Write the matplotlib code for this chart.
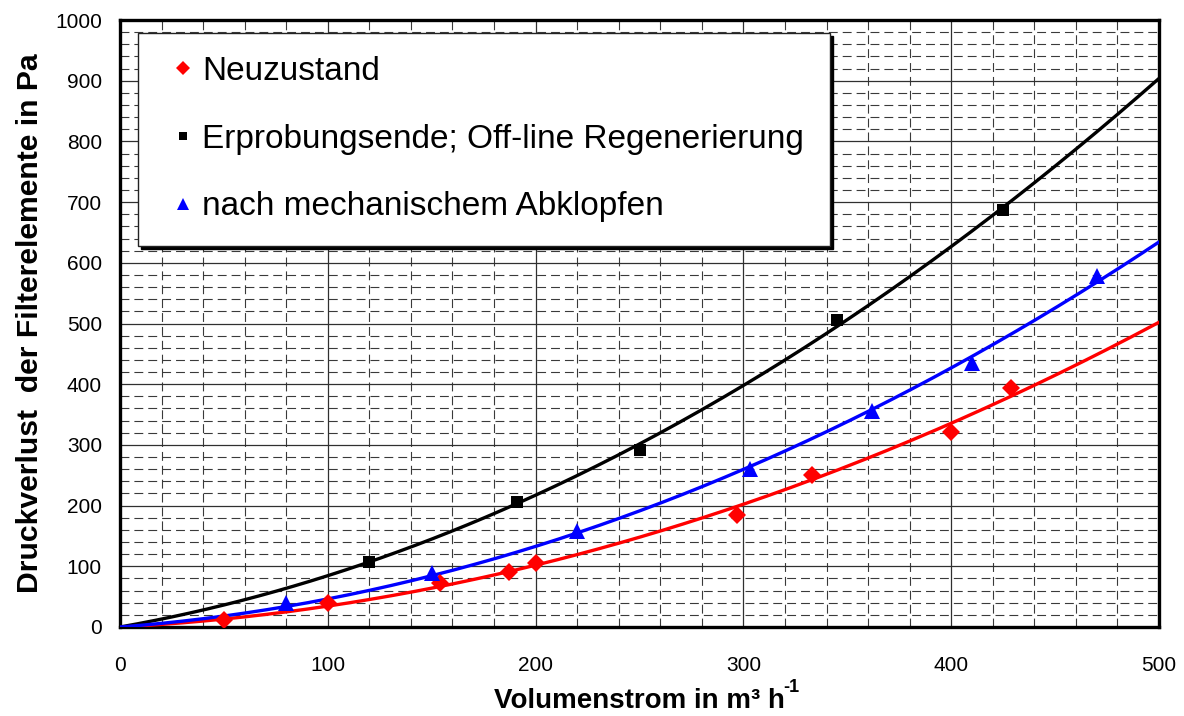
import numpy as np
import matplotlib
matplotlib.use("Agg")
import matplotlib.pyplot as plt
from matplotlib.ticker import MultipleLocator

plt.rcParams['font.family'] = ['Liberation Sans', 'DejaVu Sans']

# Measured operating points
x_neu = [50, 100, 154, 187, 200, 297, 333, 400, 429]
y_neu = [12, 40, 72, 90, 105, 185, 250, 321, 394]

x_end = [120, 191, 250, 345, 425]
y_end = [107, 206, 292, 506, 687]

x_mech = [80, 150, 220, 303, 362, 410, 470]
y_mech = [40, 89, 158, 260, 356, 435, 578]

labels = ["Neuzustand",
          "Erprobungsende; Off-line Regenerierung",
          "nach mechanischem Abklopfen"]
colors = ["#ff0000", "#000000", "#0000ff"]
markers = ["D", "s", "^"]
msizes = [9, 8, 11]

x_ticks = [0, 100, 200, 300, 400, 500]
y_ticks = [0, 100, 200, 300, 400, 500, 600, 700, 800, 900, 1000]


def quad_fit(x, y):
    """Least-squares fit y = a*x^2 + b*x (through the origin)."""
    x = np.asarray(x, float)
    y = np.asarray(y, float)
    A = np.column_stack([x ** 2, x])
    coef, *_ = np.linalg.lstsq(A, y, rcond=None)
    return coef


fig = plt.figure(figsize=(11.84, 7.16), dpi=100)
ax = fig.add_axes([120 / 1184, 89 / 716, 1039 / 1184, 607 / 716])

ax.set_xlim(0, 500)
ax.set_ylim(0, 1000)
ax.set_xticks(x_ticks)
ax.set_yticks(y_ticks)
ax.xaxis.set_minor_locator(MultipleLocator(20))
ax.yaxis.set_minor_locator(MultipleLocator(20))

ax.grid(which="minor", color="#3a3a3a", linewidth=0.8, linestyle=(0, (8, 4.5)))
ax.grid(which="major", color="#303030", linewidth=0.9, linestyle="-")
ax.set_axisbelow(True)

ax.tick_params(which="both", length=0, labelsize=15)
ax.tick_params(axis="y", pad=13)
ax.tick_params(axis="x", pad=21)

for s in ax.spines.values():
    s.set_linewidth(2.4)
    s.set_color("black")

xs = np.linspace(0, 500, 300)
handles = []
for (xd, yd), lab, c, m, ms in zip([(x_neu, y_neu), (x_end, y_end), (x_mech, y_mech)],
                                   labels, colors, markers, msizes):
    a, b = quad_fit(xd, yd)
    ax.plot(xs, a * xs ** 2 + b * xs, color=c, linewidth=2.4, zorder=3)
    h, = ax.plot(xd, yd, linestyle="none", marker=m, markersize=ms,
                 color=c, markeredgewidth=0, label=lab, zorder=4)
    handles.append(h)

leg = ax.legend(handles=handles, loc="upper left",
                bbox_to_anchor=(18 / 1039, 0.641, 692 / 1039, 0.338),
                mode="expand", fontsize=24, frameon=True, fancybox=False,
                shadow={"color": "black", "alpha": 1.0},
                edgecolor="#222222", framealpha=1.0, numpoints=1,
                handlelength=1.32, handletextpad=-0.1, borderpad=0.7,
                labelspacing=1.1, markerscale=0.75, borderaxespad=0)
leg.get_frame().set_linewidth(1.0)
leg.set_zorder(6)

xlab = ax.set_xlabel("Volumenstrom in m³ h", fontsize=20,
                     fontweight="bold", labelpad=9)
ax.annotate("-1", xy=(1, 1), xycoords=xlab, xytext=(-1, -6),
            textcoords="offset points", ha="left", va="bottom",
            fontsize=13, fontweight="bold")
ax.set_ylabel("Druckverlust  der Filterelemente in Pa", fontsize=21.7,
              fontweight="bold", labelpad=8)

fig.savefig("out.png", dpi=100)
